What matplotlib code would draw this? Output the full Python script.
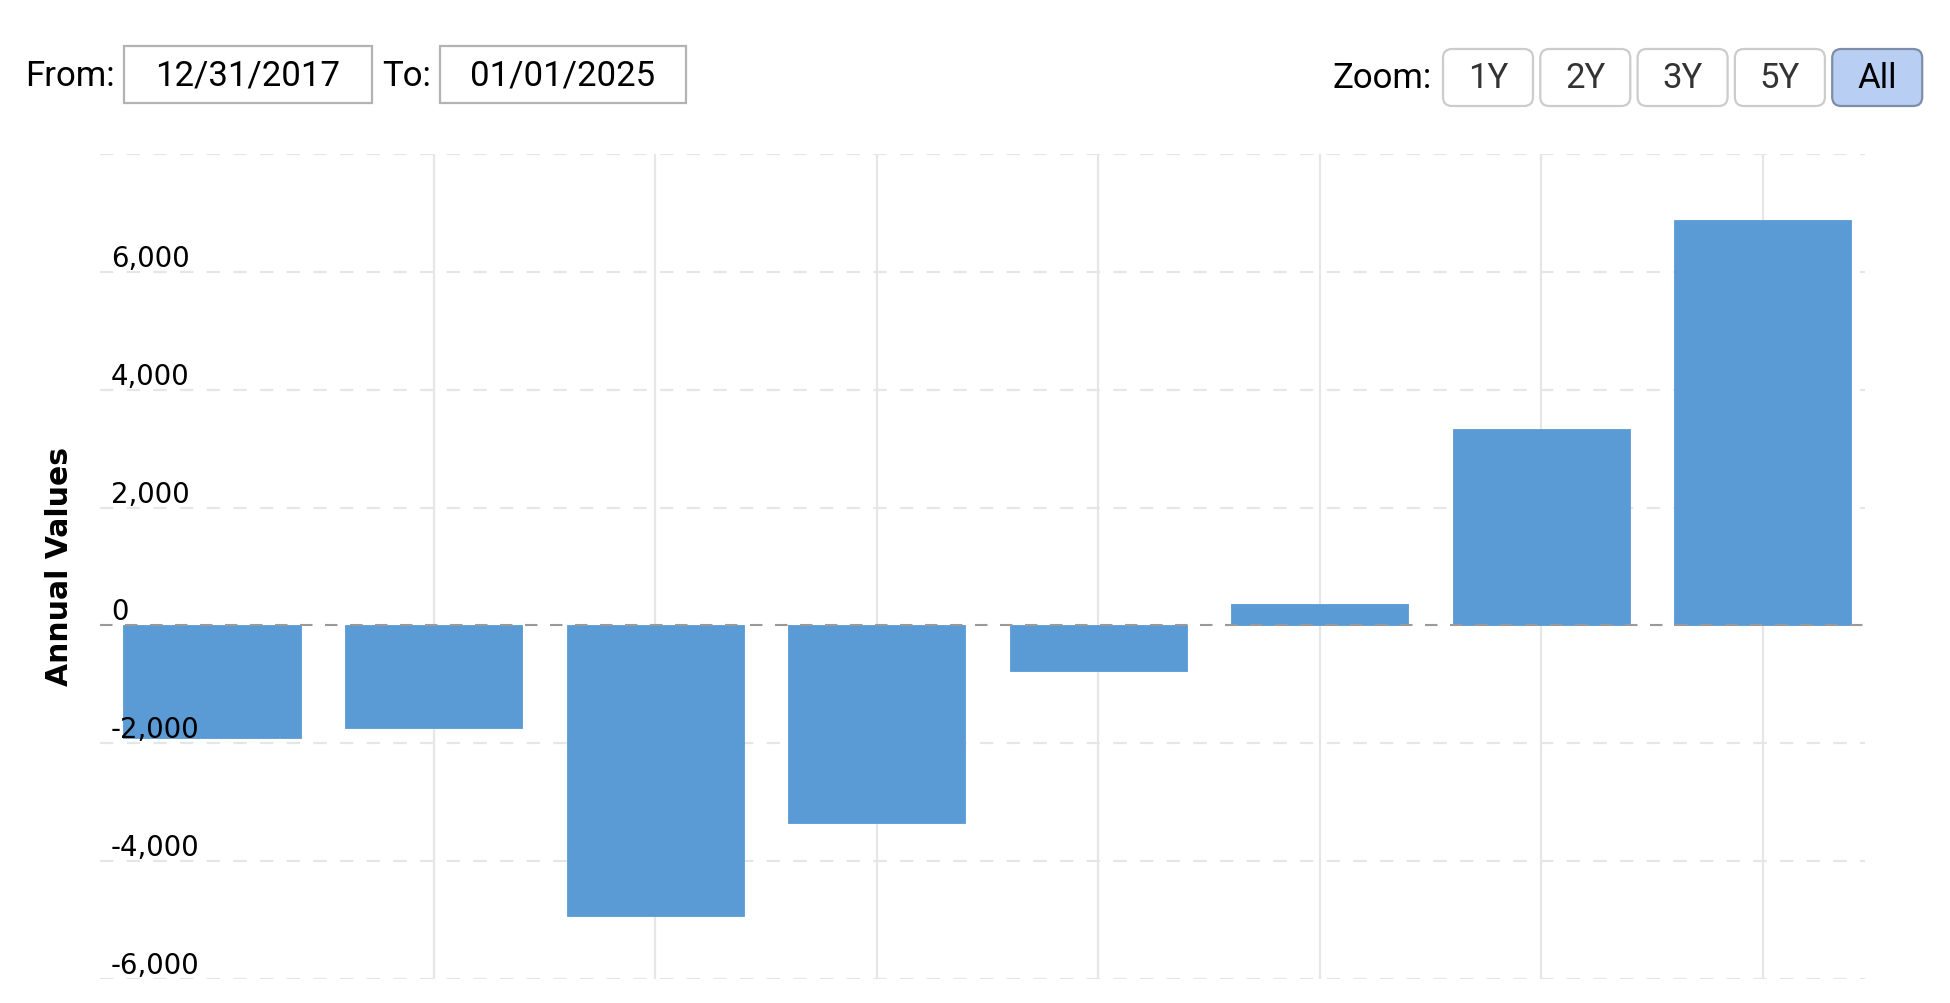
import matplotlib
matplotlib.use("Agg")
import matplotlib.pyplot as plt
from matplotlib.patches import Rectangle, FancyBboxPatch

# values (annual values, 8 periods)
periods = ["2017", "2018", "2019", "2020", "2021", "2022", "2023", "2024"]
values = [-1915, -1745, -4930, -3360, -765, 366, 3330, 6880]
ytick_vals = [6000, 4000, 2000, 0, -2000, -4000, -6000]
ytick_labels = ["6,000", "4,000", "2,000", "0", "-2,000", "-4,000", "-6,000"]
grid_vals = [8000, 6000, 4000, 2000, -2000, -4000, -6000]
date_from = "12/31/2017"
date_to = "01/01/2025"
zoom_buttons = ["1Y", "2Y", "3Y", "5Y", "All"]

BAR_COLOR = "#5b9bd5"
GRID_COLOR = "#e6e6e6"

W, H = 1950, 1004
fig = plt.figure(figsize=(W / 100, H / 100), dpi=100)

# plot area in pixels: x 100..1865, y 155..980
ax = fig.add_axes([100 / W, 1 - 980 / H, 1765 / W, 825 / H])
x = list(range(len(periods)))
ax.bar(x, values, width=0.80, color=BAR_COLOR, edgecolor=BAR_COLOR, linewidth=0.6, zorder=2)
ax.set_xlim(-0.506, 7.462)
ax.set_ylim(-6000, 8000)

for v in grid_vals:
    ax.axhline(v, color=GRID_COLOR, lw=1.6, dashes=(6, 6), zorder=1)
for xi in x[1:]:
    ax.axvline(xi, color=GRID_COLOR, lw=1.6, zorder=1)
ax.axhline(0, color="#9a9a9a", lw=1.5, dashes=(6, 6), zorder=3)

for v, lab in zip(ytick_vals, ytick_labels):
    ax.annotate(lab, xy=(0, v), xycoords=ax.get_yaxis_transform(),
                xytext=(11, 6), textcoords="offset pixels",
                ha="left", va="baseline", fontsize=19.8, color="#000000",
                family="DejaVu Sans", zorder=5, annotation_clip=False)

ax.set_xticks([])
ax.set_yticks([])
for s in ax.spines.values():
    s.set_visible(False)

fig.text(60 / W, 1 - 567 / H, "Annual Values", rotation=90, ha="center", va="center",
         fontsize=21.5, fontweight="bold", family="DejaVu Sans")

# range selector / zoom controls on an overlay in pixel coordinates
ov = fig.add_axes([0, 0, 1, 1], zorder=10)
ov.set_xlim(0, W)
ov.set_ylim(H, 0)
ov.axis("off")
ov.patch.set_alpha(0)

ui_font = "Roboto"
ov.text(25, 76, "From:", ha="left", va="center", fontsize=25, family=ui_font, color="#000000")
ov.add_patch(Rectangle((124, 47), 248, 57, fill=False, edgecolor="#b3b3b3", lw=1.6))
ov.text(248, 76, date_from, ha="center", va="center", fontsize=25, family=ui_font, color="#000000")
ov.text(382, 76, "To:", ha="left", va="center", fontsize=25, family=ui_font, color="#000000")
ov.add_patch(Rectangle((440, 47), 246, 57, fill=False, edgecolor="#b3b3b3", lw=1.6))
ov.text(563, 76, date_to, ha="center", va="center", fontsize=25, family=ui_font, color="#000000")

ov.text(1332, 78, "Zoom:", ha="left", va="center", fontsize=25, family=ui_font, color="#000000")
btn_x0 = 1443
btn_w = 90
btn_step = 97.3
for i, lab in enumerate(zoom_buttons):
    bx = btn_x0 + i * btn_step
    selected = lab == "All"
    ov.add_patch(FancyBboxPatch((bx, 50), btn_w, 57,
                                boxstyle="round,pad=0,rounding_size=9",
                                facecolor="#b8cef3" if selected else "white",
                                edgecolor="#7f8ea8" if selected else "#cccccc", lw=1.6))
    ov.text(bx + btn_w / 2, 79, lab, ha="center", va="center", fontsize=25, family=ui_font,
            color="#000000" if selected else "#333333")

fig.savefig("out.png", dpi=100)
